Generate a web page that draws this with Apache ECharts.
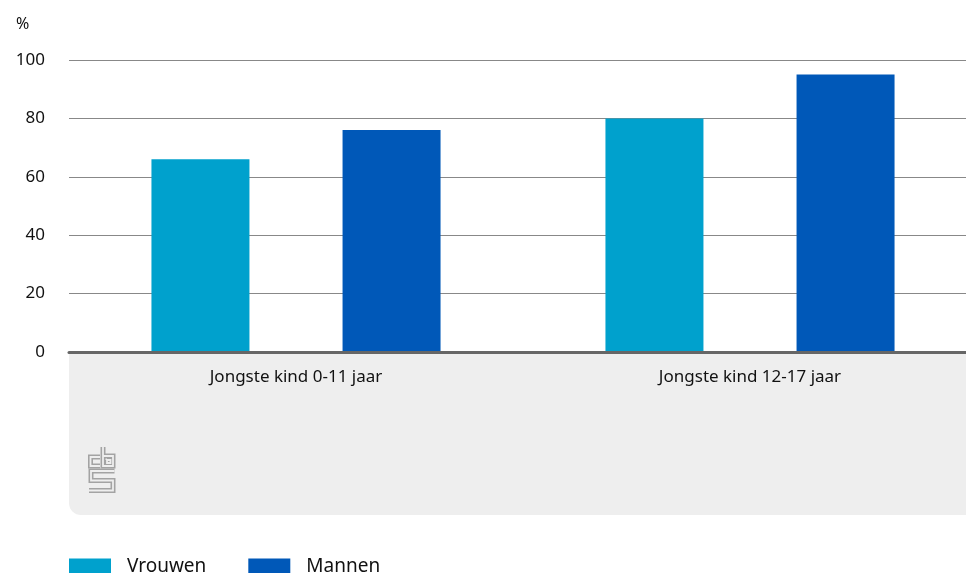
<!DOCTYPE html>
<html><head><meta charset="utf-8">
<script src="https://cdn.jsdelivr.net/npm/echarts@6/dist/echarts.min.js"></script>
<style>html,body{margin:0;padding:0;background:#fff}#c{width:966px;height:573px}</style>
</head><body><div id="c"></div>
<script>
const categories = ['Jongste kind 0-11 jaar', 'Jongste kind 12-17 jaar'];
const vrouwen = [66, 80];
const mannen = [76, 95];
const yTicks = [0, 20, 40, 60, 80, 100];

const FONT = '"Noto Sans", sans-serif';
const chart = echarts.init(document.getElementById('c'));

const logoPaths = [
  [[100,457],[90.5,457],[90.5,466],[100,466]],
  [[103,447],[103,466],[113,466],[113,456],[103,456]],
  [[107,460],[110.5,460],[110.5,463],[107,463],[107,460]],
  [[114.5,471],[91,471],[91,480.5],[113,480.5],[113,490.5],[89,490.5]]
];
const logo = [];
logoPaths.forEach(p => {
  logo.push({type:'polyline', shape:{points:p}, style:{stroke:'#a3a3a3', lineWidth:5, fill:null, lineJoin:'miter'}, z:1});
});
logoPaths.forEach(p => {
  logo.push({type:'polyline', shape:{points:p}, style:{stroke:'#eeeeee', lineWidth:1.8, fill:null, lineJoin:'miter'}, z:2});
});

chart.setOption({
  animation: false,
  textStyle: {fontFamily: FONT},
  title: {text: '%', left: 11, top: 11, textStyle: {fontFamily: FONT, fontSize: 16, fontWeight: 'normal', color: '#111'}},
  graphic: [
    {type:'rect', shape:{x:69, y:352, width:900, height:163, r:[0,0,0,12]}, style:{fill:'#eeeeee'}, z:-10, silent:true}
  ].concat(logo),
  legend: {
    left: 69, top: 557, itemWidth: 42, itemHeight: 16, itemGap: 42, padding: 0,
    icon: 'rect',
    textStyle: {fontFamily: FONT, fontSize: 19, lineHeight: 16, color: '#111', padding: [0,0,0,11]},
    data: ['Vrouwen', 'Mannen']
  },
  grid: {left: 69, right: -11, top: 60, bottom: 221, containLabel: false, outerBoundsMode: 'none'},
  xAxis: {
    type: 'category', data: categories,
    axisLine: {lineStyle: {color: '#666', width: 3}},
    axisTick: {show: false},
    axisLabel: {fontFamily: FONT, fontSize: 17, color: '#111', margin: 17},
    z: 5
  },
  yAxis: {
    type: 'value', min: 0, max: 100, interval: 20,
    axisLine: {show: false}, axisTick: {show: false},
    axisLabel: {fontFamily: FONT, fontSize: 17, color: '#111', margin: 24,
      formatter: v => yTicks.includes(v) ? String(v) : ''},
    splitLine: {lineStyle: {color: '#888', width: 1}}
  },
  series: [
    {name: 'Vrouwen', type: 'bar', data: vrouwen, barWidth: 98, barGap: '95%', itemStyle: {color: '#00a1cd'}},
    {name: 'Mannen', type: 'bar', data: mannen, barWidth: 98, barGap: '95%', itemStyle: {color: '#0058b8'}}
  ]
});
</script></body></html>
